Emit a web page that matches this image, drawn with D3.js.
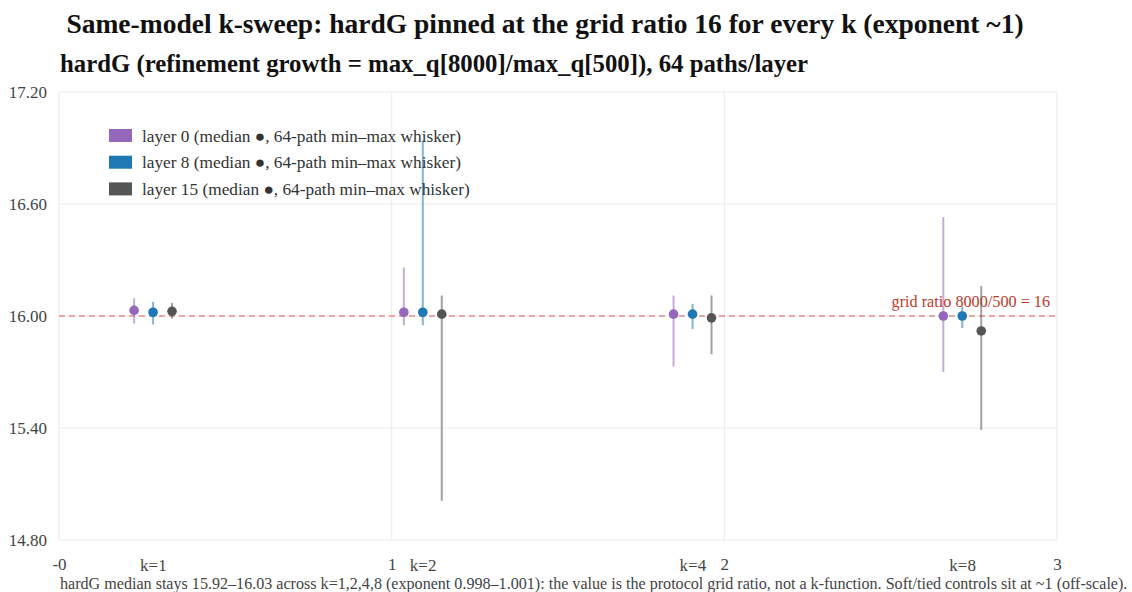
<!DOCTYPE html>
<html>
<head>
<meta charset="utf-8">
<script src="https://cdn.jsdelivr.net/npm/d3@7"></script>
<style>
  html, body { margin: 0; padding: 0; background: #fff; }
  svg { display: block; font-family: "Liberation Serif", "Times New Roman", serif; }
</style>
</head>
<body>
<svg id="chart" width="1132" height="592"></svg>
<script>
// k values swept with the same model
const categories = ["k=1", "k=2", "k=4", "k=8"];
// layers shown per k
const layers = ["layer 0", "layer 8", "layer 15"];
const layerColors = ["#9467bd", "#1f77b4", "#555555"];

// hardG medians per layer (rows) and k (columns)
const median0  = [16.03, 16.02, 16.01, 16.00];
const median8  = [16.02, 16.02, 16.01, 16.00];
const median15 = [16.025, 16.01, 15.99, 15.92];
// 64-path minimum and maximum per layer
const min0  = [15.96, 15.95, 15.73, 15.70];
const max0  = [16.095, 16.26, 16.11, 16.53];
const min8  = [15.955, 15.95, 15.93, 15.935];
const max8  = [16.075, 16.94, 16.065, 16.05];
const min15 = [15.985, 15.01, 15.795, 15.39];
const max15 = [16.07, 16.11, 16.11, 16.16];

const yTicks = [14.8, 15.4, 16.0, 16.6, 17.2];
const xTicks = [0, 1, 2, 3];
const xTickLabels = ["-0", "1", "2", "3"];
const gridRatio = 16;

const title = "Same-model k-sweep: hardG pinned at the grid ratio 16 for every k (exponent ~1)";
const subtitle = "hardG (refinement growth = max_q[8000]/max_q[500]), 64 paths/layer";
const footnote = "hardG median stays 15.92\u201316.03 across k=1,2,4,8 (exponent 0.998\u20131.001): the value is the protocol grid ratio, not a k-function. Soft/tied controls sit at ~1 (off-scale).";
const legendText = l => `${l} (median \u25CF, 64-path min\u2013max whisker)`;

const medians = [median0, median8, median15];
const mins = [min0, min8, min15];
const maxs = [max0, max8, max15];

const svg = d3.select("#chart");
const W = 1132, H = 592;
const m = { left: 59, right: 75, top: 92, bottom: 52 };
const FONT = "Liberation Serif, serif";

const x = d3.scaleLinear().domain([0, 3]).range([m.left, W - m.right]);
const y = d3.scaleLinear().domain([14.8, 17.2]).range([H - m.bottom, m.top]);
// group centre for each k (in x units) and per-layer offset within the group
const kPos = d3.scalePoint().domain(categories).range([0, 3]).padding(0.35);
const layerOff = d3.scalePoint().domain(layers).range([-0.058, 0.056]);

// titles
svg.append("text").attr("x", 545).attr("y", 33).attr("text-anchor", "middle")
  .attr("font-size", 27.5).attr("font-weight", "bold").attr("fill", "#111").text(title);
svg.append("text").attr("x", 60).attr("y", 72)
  .attr("font-size", 24.8).attr("font-weight", "bold").attr("fill", "#111").text(subtitle);

// grid
const grid = svg.append("g");
grid.selectAll("line.h").data(yTicks).join("line")
  .attr("x1", x(0)).attr("x2", x(3)).attr("y1", d => y(d)).attr("y2", d => y(d))
  .attr("stroke", "#ebebeb").attr("stroke-width", 1);
grid.selectAll("line.v").data(xTicks).join("line")
  .attr("y1", y(14.8)).attr("y2", y(17.2)).attr("x1", d => x(d)).attr("x2", d => x(d))
  .attr("stroke", "#ebebeb").attr("stroke-width", 1);

// y axis labels
const yAxis = svg.append("g").attr("transform", `translate(${m.left - 12},0)`)
  .call(d3.axisLeft(y).tickValues(yTicks).tickFormat(d3.format(".2f")).tickSize(0).tickPadding(0));
yAxis.select(".domain").remove();
yAxis.selectAll("text").attr("font-family", FONT).attr("font-size", 17).attr("fill", "#444");

// x axis labels
const xAxis = svg.append("g").attr("transform", `translate(0,${y(14.8) + 18})`)
  .call(d3.axisBottom(x).tickValues(xTicks).tickFormat((d, i) => xTickLabels[i]).tickSize(0).tickPadding(0));
xAxis.select(".domain").remove();
xAxis.selectAll("text").attr("font-family", FONT).attr("font-size", 17).attr("fill", "#444");

// category labels
svg.append("g").selectAll("text").data(categories).join("text")
  .attr("x", d => x(kPos(d))).attr("y", y(14.8) + 31).attr("text-anchor", "middle")
  .attr("font-size", 17).attr("fill", "#444").text(d => d);

// reference line at the grid ratio
svg.append("line").attr("x1", x(0)).attr("x2", x(3))
  .attr("y1", y(gridRatio)).attr("y2", y(gridRatio))
  .attr("stroke", "#d62728").attr("stroke-opacity", 0.5).attr("stroke-width", 1.4)
  .attr("stroke-dasharray", "6,4");
svg.append("text").attr("x", x(3) - 7).attr("y", y(gridRatio) - 9).attr("text-anchor", "end")
  .attr("font-size", 16.2).attr("fill", "#c0392b").text(`grid ratio 8000/500 = ${gridRatio}`);

// whiskers and medians
layers.forEach((l, li) => {
  const g = svg.append("g");
  const rows = categories.map((c, ci) => ({
    c, med: medians[li][ci], lo: mins[li][ci], hi: maxs[li][ci]
  }));
  g.selectAll("line").data(rows).join("line")
    .attr("x1", d => x(kPos(d.c) + layerOff(l))).attr("x2", d => x(kPos(d.c) + layerOff(l)))
    .attr("y1", d => y(d.lo)).attr("y2", d => y(d.hi))
    .attr("stroke", layerColors[li]).attr("stroke-opacity", 0.55).attr("stroke-width", 2);
  g.selectAll("circle").data(rows).join("circle")
    .attr("cx", d => x(kPos(d.c) + layerOff(l))).attr("cy", d => y(d.med))
    .attr("r", 4.8).attr("fill", layerColors[li]);
});

// legend
const leg = svg.append("g").attr("transform", "translate(109,129)");
layers.forEach((l, i) => {
  const row = leg.append("g").attr("transform", `translate(0,${i * 26.7})`);
  row.append("rect").attr("width", 23).attr("height", 13).attr("fill", layerColors[i]);
  row.append("text").attr("x", 33).attr("y", 12.5).attr("font-size", 17.3).attr("fill", "#333").text(legendText(l));
});

// footnote
svg.append("text").attr("x", 60).attr("y", 589).attr("font-size", 16.1).attr("fill", "#444").text(footnote);
</script>
</body>
</html>
